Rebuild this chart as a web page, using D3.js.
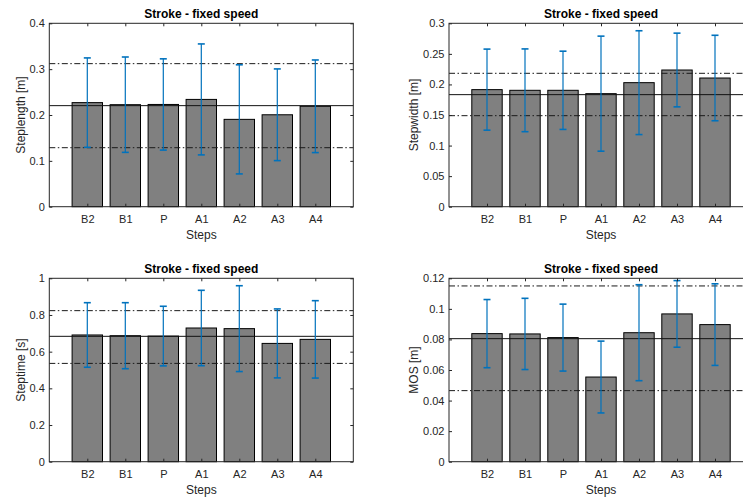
<!DOCTYPE html>
<html>
<head>
<meta charset="utf-8">
<script src="https://cdn.jsdelivr.net/npm/d3@7"></script>
<style>
  html, body { margin: 0; padding: 0; background: #fff; }
  svg { display: block; font-family: "Liberation Sans", Arial, Helvetica, sans-serif; }
</style>
</head>
<body>
<svg id="fig" width="743" height="499"></svg>
<script>
// Gait parameters per step around the perturbation (mean and standard deviation)
const categories = ["B2", "B1", "P", "A1", "A2", "A3", "A4"];

const steplengthMean = [0.227, 0.2225, 0.223, 0.234, 0.1905, 0.2005, 0.219];
const steplengthSD   = [0.0975, 0.104, 0.0995, 0.121, 0.119, 0.100, 0.101];
const steplengthRef  = [0.2204, 0.1287, 0.312];   // overall mean, mean - sd, mean + sd
const steplengthTicks = [0, 0.1, 0.2, 0.3, 0.4];

const stepwidthMean = [0.1915, 0.1904, 0.1904, 0.1849, 0.2029, 0.2236, 0.2105];
const stepwidthSD   = [0.0663, 0.0677, 0.064, 0.0941, 0.0849, 0.0603, 0.0699];
const stepwidthRef  = [0.1833, 0.1489, 0.2182];
const stepwidthTicks = [0, 0.05, 0.1, 0.15, 0.2, 0.25, 0.3];

const steptimeMean = [0.691, 0.687, 0.685, 0.729, 0.7255, 0.645, 0.667];
const steptimeSD   = [0.176, 0.180, 0.1625, 0.2055, 0.234, 0.188, 0.211];
const steptimeRef  = [0.6836, 0.536, 0.8236];
const steptimeTicks = [0, 0.2, 0.4, 0.6, 0.8, 1];

const mosMean = [0.0838, 0.0836, 0.0812, 0.0554, 0.0844, 0.0967, 0.0897];
const mosSD   = [0.0223, 0.0233, 0.0219, 0.0235, 0.0314, 0.0218, 0.0267];
const mosRef  = [0.0805, 0.0465, 0.115];
const mosTicks = [0, 0.02, 0.04, 0.06, 0.08, 0.1, 0.12];

const titleText = "Stroke - fixed speed";
const xLabelText = "Steps";

const panels = [
  { mean: steplengthMean, sd: steplengthSD, ref: steplengthRef, ticks: steplengthTicks,
    ylabel: "Steplength [m]", x0: 49.3, y0: 23.3 },
  { mean: stepwidthMean, sd: stepwidthSD, ref: stepwidthRef, ticks: stepwidthTicks,
    ylabel: "Stepwidth [m]", x0: 449, y0: 23.3 },
  { mean: steptimeMean, sd: steptimeSD, ref: steptimeRef, ticks: steptimeTicks,
    ylabel: "Steptime [s]", x0: 49.3, y0: 278.3 },
  { mean: mosMean, sd: mosSD, ref: mosRef, ticks: mosTicks,
    ylabel: "MOS [m]", x0: 449, y0: 278.3 }
];

const W = 304, H = 183.4;
const axisColor = "#262626";
const barColor = "#808080";
const errColor = "#0072BD";
const tickLen = 3;

const svg = d3.select("#fig");

panels.forEach(p => {
  const g = svg.append("g").attr("transform", `translate(${p.x0},${p.y0})`);

  // categorical positions 1..7 on a 0..8 range
  const x = d3.scaleLinear().domain([0, categories.length + 1]).range([0, W]);
  const yMax = p.ticks[p.ticks.length - 1];
  const y = d3.scaleLinear().domain([0, yMax]).range([H, 0]);
  const slot = x(1) - x(0);
  const bw = slot * 0.8;

  // bars
  g.selectAll("rect.bar").data(p.mean).enter().append("rect")
    .attr("class", "bar")
    .attr("x", (d, i) => x(i + 1) - bw / 2)
    .attr("width", bw)
    .attr("y", d => y(d))
    .attr("height", d => H - y(d))
    .attr("fill", barColor)
    .attr("stroke", "#000")
    .attr("stroke-width", 1);

  // reference lines: mean (solid), mean ± sd (dash-dot)
  p.ref.forEach((v, k) => {
    g.append("line")
      .attr("x1", 0).attr("x2", W)
      .attr("y1", y(v)).attr("y2", y(v))
      .attr("stroke", k === 0 ? "#111" : "#1a1a1a")
      .attr("stroke-width", 1)
      .attr("stroke-dasharray", k === 0 ? null : "6,2.5,1.5,2.5");
  });

  // error bars
  const capW = 7;
  const eb = g.selectAll("g.err").data(p.mean.map((m, i) => ({ m, s: p.sd[i], i })))
    .enter().append("g").attr("class", "err")
    .attr("stroke", errColor).attr("stroke-width", 1.2).attr("fill", "none");
  eb.append("line")
    .attr("x1", d => x(d.i + 1)).attr("x2", d => x(d.i + 1))
    .attr("y1", d => y(d.m - d.s)).attr("y2", d => y(d.m + d.s));
  eb.append("line")
    .attr("x1", d => x(d.i + 1) - capW / 2).attr("x2", d => x(d.i + 1) + capW / 2)
    .attr("y1", d => y(d.m + d.s)).attr("y2", d => y(d.m + d.s)).attr("stroke-width", 1.6);
  eb.append("line")
    .attr("x1", d => x(d.i + 1) - capW / 2).attr("x2", d => x(d.i + 1) + capW / 2)
    .attr("y1", d => y(d.m - d.s)).attr("y2", d => y(d.m - d.s)).attr("stroke-width", 1.6);

  // box
  g.append("rect")
    .attr("x", 0).attr("y", 0).attr("width", W).attr("height", H)
    .attr("fill", "none").attr("stroke", axisColor).attr("stroke-width", 1);

  // left axis with labels, inner ticks
  const yAxis = d3.axisLeft(y).tickValues(p.ticks).tickSizeInner(-tickLen).tickSizeOuter(0)
    .tickPadding(4.5).tickFormat(d3.format("~g"));
  const ya = g.append("g").call(yAxis);
  ya.select(".domain").remove();
  ya.selectAll("line").attr("stroke", axisColor);
  ya.selectAll("text").attr("fill", axisColor).attr("font-size", 11);

  // widest tick label sets the y-label offset
  let maxW = 0;
  ya.selectAll("text").each(function () { maxW = Math.max(maxW, this.getBBox().width); });

  // mirrored ticks on the right
  const yAxisR = d3.axisRight(y).tickValues(p.ticks).tickSizeInner(-tickLen).tickSizeOuter(0).tickFormat("");
  const yr = g.append("g").attr("transform", `translate(${W},0)`).call(yAxisR);
  yr.select(".domain").remove();
  yr.selectAll("line").attr("stroke", axisColor);

  // bottom axis with category labels
  const xAxis = d3.axisBottom(x).tickValues(d3.range(1, categories.length + 1))
    .tickSizeInner(-tickLen).tickSizeOuter(0).tickPadding(9)
    .tickFormat(d => categories[d - 1]);
  const xa = g.append("g").attr("transform", `translate(0,${H})`).call(xAxis);
  xa.select(".domain").remove();
  xa.selectAll("line").attr("stroke", axisColor);
  xa.selectAll("text").attr("fill", axisColor).attr("font-size", 11);

  // mirrored ticks on top
  const xAxisT = d3.axisTop(x).tickValues(d3.range(1, categories.length + 1))
    .tickSizeInner(-tickLen).tickSizeOuter(0).tickFormat("");
  const xt = g.append("g").call(xAxisT);
  xt.select(".domain").remove();
  xt.selectAll("line").attr("stroke", axisColor);

  // title and axis labels
  g.append("text")
    .attr("x", W / 2).attr("y", -5)
    .attr("text-anchor", "middle")
    .attr("font-size", 12).attr("font-weight", "bold").attr("fill", "#000")
    .text(titleText);

  g.append("text")
    .attr("x", W / 2).attr("y", H + 32.5)
    .attr("text-anchor", "middle")
    .attr("font-size", 12).attr("fill", axisColor)
    .text(xLabelText);

  g.append("text")
    .attr("transform", `translate(${-4.5 - maxW - 5},${H / 2}) rotate(-90)`)
    .attr("text-anchor", "middle")
    .attr("font-size", 12).attr("fill", axisColor)
    .text(p.ylabel);
});
</script>
</body>
</html>
